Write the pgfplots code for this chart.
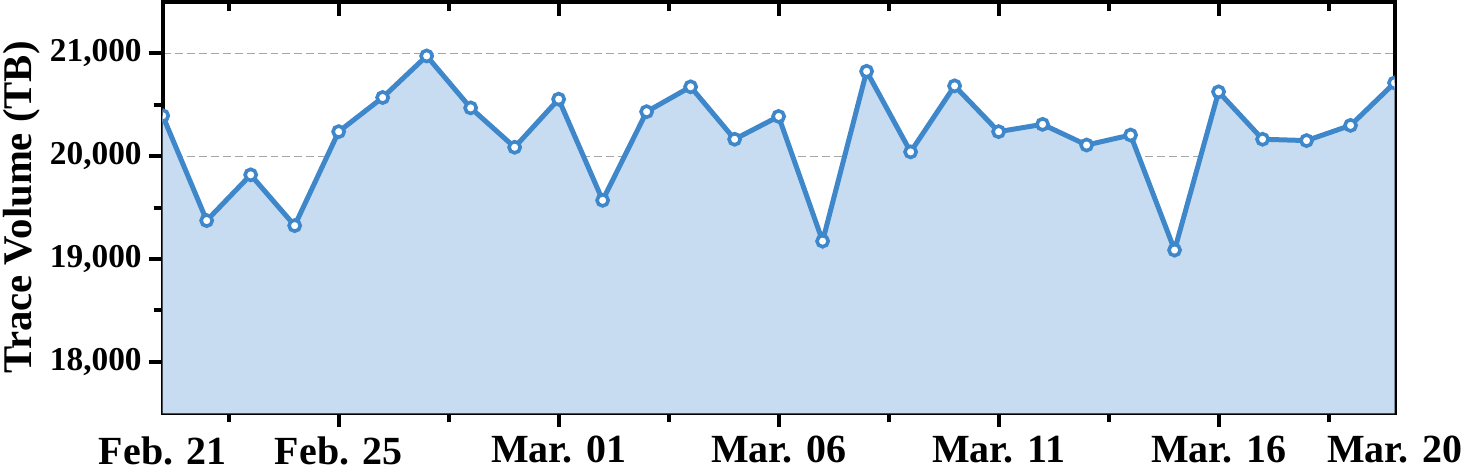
\documentclass[border=0pt]{standalone}
\usepackage{fontspec}
\setmainfont{Liberation Serif}
\usepackage{pgfplots}
\pgfplotsset{compat=1.18}
\usepackage{pgfplotstable}

\definecolor{lineblue}{RGB}{63,135,203}
\definecolor{fillblue}{RGB}{199,220,241}
\definecolor{gridgray}{RGB}{165,165,165}

% daily trace volume, index 0 = Feb. 21 ... 28 = Mar. 20
\pgfplotstableread{
idx vol
0  20394
1  19374
2  19819
3  19325
4  20239
5  20571
6  20975
7  20470
8  20087
9  20555
10 19571
11 20433
12 20675
13 20165
14 20387
15 19174
16 20826
17 20042
18 20684
19 20239
20 20310
21 20109
22 20206
23 19087
24 20626
25 20165
26 20152
27 20300
28 20713
}\voltable

\begin{document}
\begin{tikzpicture}
\begin{axis}[
    scale only axis,
    width=617pt, height=206pt,
    xmin=0, xmax=28,
    ymin=17500, ymax=21500,
    axis line style={black, line width=2pt},
    tick style={black, line width=2pt},
    tick align=outside,
    xtick pos=bottom, ytick pos=left,
    major tick length=7pt, minor tick length=4.5pt,
    xtick={4,9,14,19,24},
    xticklabels={Feb. 25, Mar. 01, Mar. 06, Mar. 11, Mar. 16},
    extra x ticks={0,28},
    extra x tick labels={Feb. 21, Mar. 20},
    extra x tick style={major tick length=0pt, xticklabel style={yshift=-7pt}},
    minor xtick={1.5,6.5,11.5,16.5,21.5,26.5},
    ytick={18000,19000,20000,21000},
    minor ytick={18500,19500,20500},
    scaled y ticks=false,
    /pgf/number format/assume math mode=true,
    yticklabel style={/pgf/number format/1000 sep={,},
        font=\bfseries\fontsize{16.7}{20}\selectfont},
    xticklabel style={font=\bfseries\fontsize{20}{24}\selectfont,
        inner xsep=0pt, yshift=-1pt},
    ylabel={Trace Volume (TB)},
    ylabel style={font=\bfseries\fontsize{20.4}{24}\selectfont, inner sep=1.5pt},
    ymajorgrids,
    major grid style={gridgray, line width=0.6pt, dash pattern=on 4pt off 2pt},
    clip marker paths=true,
]
\addplot[draw=none, fill=fillblue] table[x=idx, y=vol] {\voltable} \closedcycle;
\addplot[lineblue, line width=2.5pt, mark=*, mark size=2.8pt,
    mark options={fill=white, draw=lineblue, line width=1.8pt}]
    table[x=idx, y=vol] {\voltable};
% inward ticks along the top spine
\pgfplotsinvokeforeach{4,9,14,19,24}{
    \draw[black, line width=2pt] (axis cs:#1,21500) -- ++(0pt,-7pt);
}
\pgfplotsinvokeforeach{1.5,6.5,11.5,16.5,21.5,26.5}{
    \draw[black, line width=2pt] (axis cs:#1,21500) -- ++(0pt,-4.5pt);
}
\end{axis}
\end{tikzpicture}
\end{document}
